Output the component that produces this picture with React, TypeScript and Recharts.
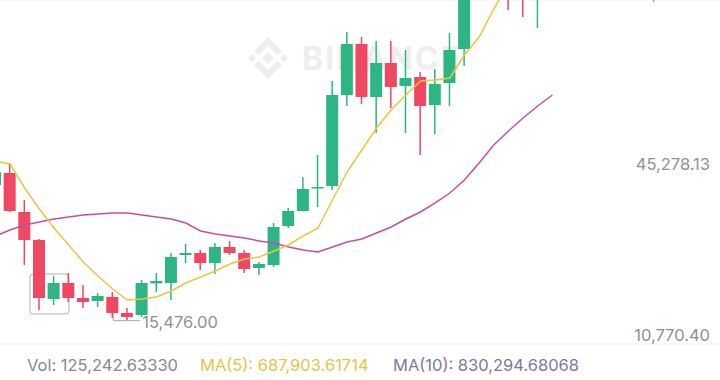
import React from 'react';
import { ComposedChart, Bar, Line, XAxis, YAxis, CartesianGrid, ReferenceArea, ReferenceDot, ReferenceLine } from 'recharts';

// candle index (-1 is the one cut off at the left edge)
const candleIdx = [-1, 0, 1, 2, 3, 4, 5, 6, 7, 8, 9, 10, 11, 12, 13, 14, 15, 16, 17, 18, 19, 20, 21, 22, 23, 24, 25, 26, 27, 28, 29, 30, 31, 32, 33, 34, 35, 36, 37];
const opens = [42860, 45280, 37410, 31760, 19850, 23080, 20050, 19450, 20260, 17030, 16620, 23000, 23080, 28730, 29140, 27120, 30350, 29140, 26110, 26710, 34580, 37610, 42250, 42660, 61020, 71310, 60620, 67480, 62840, 64650, 59000, 63440, 70300, 84000, 89000, 88000, 83000, 80500, 85000];
const highs = [46900, 47300, 39830, 31960, 24490, 25100, 22680, 21060, 21260, 18040, 23690, 25100, 29140, 30950, 29740, 31150, 31560, 29740, 27320, 35190, 38220, 44470, 48910, 63840, 73730, 72720, 71920, 71920, 70100, 65660, 66270, 73530, 86000, 91000, 92000, 90000, 85000, 86500, 89000];
const lows = [42250, 37400, 26710, 17630, 18640, 19250, 18040, 18240, 16020, 15476, 16220, 21260, 19650, 27120, 25700, 24900, 28730, 25100, 24700, 26310, 34180, 37500, 38420, 41850, 58800, 59200, 53350, 58400, 53350, 48910, 53150, 58800, 66870, 81500, 82000, 78170, 76760, 74540, 83000];
const closes = [45480, 37610, 31760, 20050, 23080, 20050, 19250, 20460, 17030, 16220, 23080, 23480, 28330, 29140, 27120, 30350, 29140, 25910, 26920, 34380, 37610, 42050, 42450, 61020, 71310, 60620, 67480, 62630, 64450, 58800, 63240, 70100, 84000, 89000, 86000, 83000, 80500, 85000, 88000];
const ma7 = [47700, 47100, 42250, 38010, 34180, 30750, 27320, 24490, 21870, 19650, 19850, 20260, 21470, 23080, 24290, 25500, 26920, 27920, 28330, 29540, 30750, 32570, 34180, 39830, 45480, 49920, 54360, 57990, 61020, 63840, 64050, 64450, 69090, 72720, 78370, 83500, 86000, 87500, 88500];
const ma25 = [32560, 33780, 34780, 35390, 36000, 36400, 36800, 37010, 37210, 37210, 36800, 36400, 35990, 35190, 33570, 32970, 32570, 32160, 31560, 31150, 30350, 29740, 29340, 30350, 31360, 31960, 33170, 34380, 35990, 37410, 39230, 41240, 43870, 47300, 50930, 53750, 56380, 58800, 61020];

const priceTicks = [10770.4, 45278.13, 79785.86];
const lowMark = 15476;
const EMPTY_SLOTS = 11;

const GREEN = '#2eb584';
const RED = '#ef4862';
const YELLOW = '#ebc540';
const PURPLE = '#c4509c';
const LABEL_GRAY = '#8f9096';

const data = [
  ...candleIdx.map((i, k) => ({
    i,
    open: opens[k],
    high: highs[k],
    low: lows[k],
    close: closes[k],
    range: [lows[k], highs[k]],
    ma7: ma7[k],
    ma25: ma25[k],
  })),
  ...Array.from({ length: EMPTY_SLOTS }, (_, n) => ({ i: 38 + n, range: null, ma7: null, ma25: null })),
];

const fmt = (v: number) => v.toLocaleString('en-US', { minimumFractionDigits: 2, maximumFractionDigits: 2 });

const Candle = (props: any) => {
  const { x, y, width, height, payload } = props;
  if (!payload || payload.open == null) return null;
  const { open, close, high, low } = payload;
  const span = high - low || 1;
  const toY = (v: number) => y + ((high - v) / span) * height;
  const color = close >= open ? GREEN : RED;
  const top = toY(Math.max(open, close));
  const bot = toY(Math.min(open, close));
  const cx = x + width / 2;
  return (
    <g>
      <line x1={cx} x2={cx} y1={y} y2={y + height} stroke={color} strokeWidth={1.5} />
      <rect x={x} y={top} width={width} height={Math.max(1.5, bot - top)} fill={color} />
    </g>
  );
};

// price label sitting just above its grid line, at the right
const PriceLabel = (props: any) => {
  const { viewBox, value } = props;
  return (
    <text x={viewBox.x + viewBox.width - 11} y={viewBox.y - 3.5} textAnchor="end" fontSize={16.5} fill={LABEL_GRAY} fontFamily="Inter">
      {fmt(value)}
    </text>
  );
};

const LowLabel = (props: any) => {
  const { x, y } = props.viewBox;
  return (
    <g>
      <line x1={x - 14} x2={x + 13} y1={y} y2={y} stroke="#a5a5a8" strokeWidth={1} />
      <line x1={x - 14} x2={x - 14} y1={y - 7} y2={y} stroke="#a5a5a8" strokeWidth={1} />
      <text x={x + 15} y={y + 7.5} fontSize={16.5} fill={LABEL_GRAY} fontFamily="Inter">{fmt(lowMark)}</text>
    </g>
  );
};

const Watermark = () => (
  <svg width={720} height={380} style={{ position: 'absolute', left: 0, top: 0 }}>
    <g fill="#eeeeee">
      <polygon points="254,51 268,37 282,51 277.5,55.5 268,46 258.5,55.5" />
      <polygon points="254,65 268,79 282,65 277.5,60.5 268,70 258.5,60.5" />
      <polygon points="268,52 274,58 268,64 262,58" />
      <polygon points="252,54 256,58 252,62 248,58" />
      <polygon points="284,54 288,58 284,62 280,58" />
      <text x={302} y={70} fontSize={32} fontWeight={700} fontFamily="Inter" letterSpacing={2}>BINANCE</text>
    </g>
  </svg>
);

const legendStyle: React.CSSProperties = {
  position: 'absolute',
  top: 355,
  fontSize: 16.5,
  lineHeight: '20px',
  fontFamily: 'Inter, sans-serif',
  whiteSpace: 'nowrap',
};

export default function App() {
  return (
    <div style={{ position: 'absolute', left: 0, top: 0, width: 720, height: 380, overflow: 'hidden', background: '#fff' }}>
      <Watermark />
      <div style={{ position: 'absolute', left: -12, top: 0 }}>
        <ComposedChart width={733} height={380} data={data} margin={{ top: 0, right: 0, bottom: 36, left: 0 }}>
          <CartesianGrid stroke="#f0f1f3" strokeWidth={1} />
          <XAxis dataKey="i" height={0} tick={false} axisLine={false} tickLine={false} ticks={[8, 24]} interval={0} />
          <YAxis
            orientation="right"
            mirror
            width={1}
            type="number"
            domain={[10770.4, 80190]}
            allowDataOverflow
            ticks={priceTicks}
            axisLine={false}
            tickLine={false}
            tick={false}
          />
          <ReferenceArea
            x1={2}
            x2={4}
            y1={16825}
            y2={24897}
            shape={(p: any) => <rect x={p.x - 2} y={p.y} width={p.width - 5} height={p.height} rx={3} fill="none" stroke="#b3b3b6" strokeWidth={1} />}
          />
          <Bar dataKey="range" barSize={12} shape={<Candle />} isAnimationActive={false} />
          <Line type="linear" dataKey="ma25" stroke={PURPLE} strokeWidth={1.5} dot={false} isAnimationActive={false} />
          <Line type="linear" dataKey="ma7" stroke={YELLOW} strokeWidth={1.5} dot={false} isAnimationActive={false} />
          {priceTicks.map((v) => (
            <ReferenceLine key={v} y={v} stroke="none" label={<PriceLabel value={v} />} />
          ))}
          <ReferenceDot x={8} y={lowMark} r={0} fill="none" stroke="none" label={<LowLabel />} />
        </ComposedChart>
      </div>
      <div style={{ ...legendStyle, left: 27, color: '#86898f' }}>Vol: 125,242.63330</div>
      <div style={{ ...legendStyle, left: 200, color: '#e3c44c' }}>MA(5): 687,903.61714</div>
      <div style={{ ...legendStyle, left: 393, color: '#7c7a99' }}>MA(10): 830,294.68068</div>
    </div>
  );
}
